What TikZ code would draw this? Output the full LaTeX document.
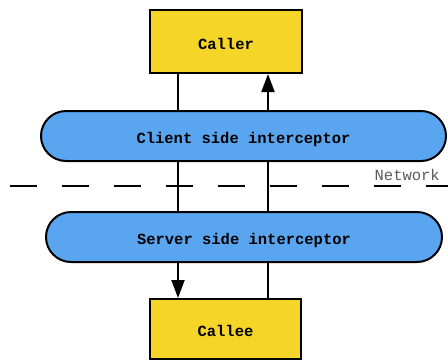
\documentclass[tikz,border=0pt]{standalone}
\usepackage{fontspec}
\setmonofont{Liberation Mono}
\usetikzlibrary{arrows.meta}
\definecolor{boxyellow}{HTML}{F5D527}
\definecolor{ibblue}{HTML}{5AA5F0}
\tikzset{
  labeltext/.style={font=\ttfamily\bfseries\fontsize{15.5}{18}\selectfont,
    text height=15pt, text depth=0pt, inner sep=0pt},
  endpoint/.style={draw=black, line width=2pt, fill=boxyellow, rectangle, labeltext},
  interceptor/.style={draw=black, line width=2pt, fill=ibblue, rectangle,
    rounded corners=25pt, minimum height=50pt, labeltext},
  flow/.style={line width=2pt},
  tip/.style={-{Triangle[length=18pt,width=13pt]}}
}
\begin{document}
\begin{tikzpicture}[x=1pt,y=-1pt]
  \useasboundingbox (0,0) rectangle (448,360);
  \coordinate (L) at (178,0);
  \coordinate (R) at (268,0);

  \node[endpoint, minimum width=152pt, minimum height=63pt] (caller) at (226,41.5) {Caller};
  \node[interceptor, minimum width=405pt] (client) at (243.5,136) {Client side interceptor};
  \node[interceptor, minimum width=396pt] (server) at (244,237) {Server side interceptor};
  \node[endpoint, minimum width=151pt, minimum height=60pt] (callee) at (225.5,329) {Callee};

  % network boundary
  \draw[line width=2pt, dash pattern=on 27pt off 25pt] (10,186) -- (448,186);
  \node[anchor=base east, text=black!65, font=\ttfamily\fontsize{15.5}{18}\selectfont, inner sep=0pt]
    (net) at (440,180) {Network};

  % request path
  \draw[flow] (caller.south -| L) -- (client.north -| L);
  \draw[flow] (client.south -| L) -- (server.north -| L);
  \draw[flow, tip] (server.south -| L) -- (callee.north -| L);

  % reply path
  \draw[flow] (callee.north -| R) -- (server.south -| R);
  \draw[flow] (server.north -| R) -- (client.south -| R);
  \draw[flow, tip] (client.north -| R) -- (caller.south -| R);
\end{tikzpicture}
\end{document}
